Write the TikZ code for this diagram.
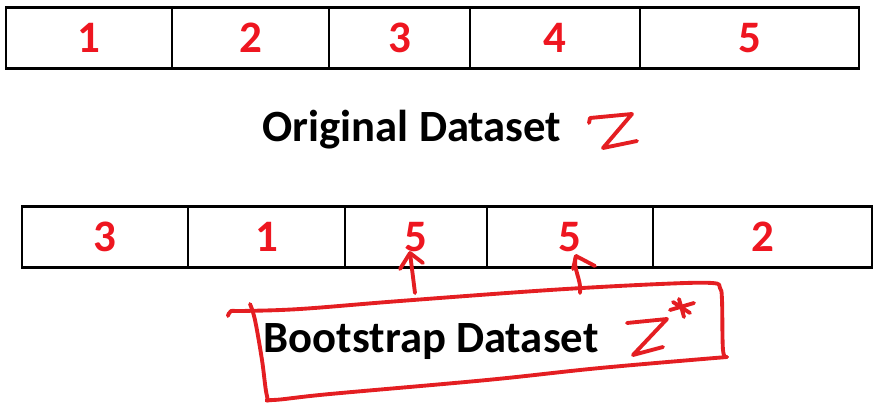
\documentclass[tikz,border=0pt]{standalone}
\usepackage{fontspec}
\setmainfont{Carlito}
\usepackage{tikz}
\definecolor{numred}{RGB}{238,22,32}
\definecolor{penred}{RGB}{228,30,34}

\begin{document}
\begin{tikzpicture}[x=0.01cm,y=-0.01cm,
  cellstyle/.style={draw,line width=0.8pt,inner sep=0,minimum height=0.61cm,text=numred,font=\bfseries\fontsize{12.8}{14}\selectfont},
  titlestyle/.style={anchor=base west,inner sep=0,font=\bfseries\fontsize{12.7}{14}\selectfont},
  penstyle/.style={draw=penred,line width=1.1pt,line cap=round,line join=round}]
  \useasboundingbox (0,0) rectangle (887,406);

  % original dataset
  \foreach \xa/\xb/\lab [count=\i] in {6/172/1,172/329/2,329/470/3,470/640/4,640/859/5}
     {\pgfmathsetmacro{\w}{(\xb-\xa)/100}
     \node [cellstyle,minimum width=\w cm] (o\i) at ({(\xa+\xb)/2},38) {\lab};}
  \node [titlestyle] (otitle) at (262,142) {Original Dataset};
  \draw [penstyle] (589,123) -- (590,118) -- (632,114) -- (603,148) -- (637,141);

  % bootstrap dataset
  \foreach \xa/\xb/\lab [count=\i] in {22/188/3,188/345/1,345/487/5,487/653/5,653/872/2}
     {\pgfmathsetmacro{\w}{(\xb-\xa)/100}
     \node [cellstyle,minimum width=\w cm] (b\i) at ({(\xa+\xb)/2},237) {\lab};}
  \node [titlestyle] (btitle) at (263,352) {Bootstrap Dataset};
  \draw [penstyle] (627,323) -- (667,319) -- (633,355) -- (663,347);
  \draw [penstyle] (679,299) -- (684,317)
                   (670,310) -- (694,303)
                   (673,302) -- (690,313);

  % hand drawn frame
  \draw [penstyle] plot [smooth,tension=0.6] coordinates
     {(228,316) (231,311) (242,311) (300,309) (400,301) (550,290) (660,284) (712,283) (720,288) (722,300) (723,350) (727,357)};
  \draw [penstyle] plot [smooth,tension=0.6] coordinates
     {(727,357) (600,368) (487,380) (330,394) (273,400) (267,396) (262,360) (255,320) (250,304)};

  % arrows to the repeated 5
  \coordinate (t1) at (415,293);
  \coordinate (h1) at (410,253);
  \coordinate (t2) at (580,293);
  \coordinate (h2) at (576,256);
  \draw [penstyle] (t1) -- (h1);
  \draw [penstyle] (h1) -- ++(-10,16) (h1) -- ++(13,10);
  \draw [penstyle] (t2) .. controls (582,280) and (572,268) .. (h2);
  \draw [penstyle] (h2) -- ++(-3,13) (h2) -- ++(19,10);
\end{tikzpicture}
\end{document}
